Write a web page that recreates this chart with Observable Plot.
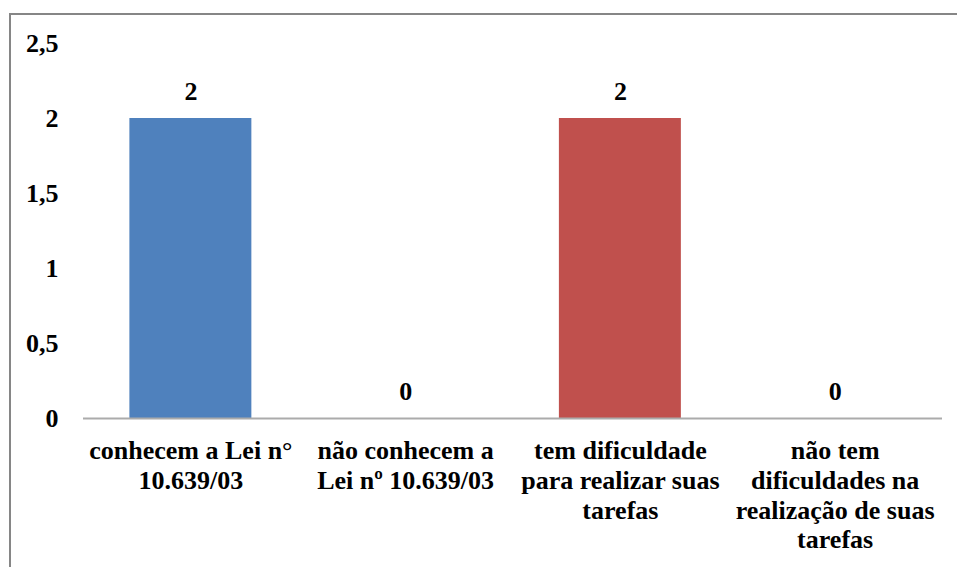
<!DOCTYPE html>
<html><head><meta charset="utf-8">
<script src="https://cdn.jsdelivr.net/npm/d3@7"></script>
<script src="https://cdn.jsdelivr.net/npm/@observablehq/plot@0.6"></script>
<style>
body{margin:0;background:#fff;}
#wrap{position:relative;width:957px;height:567px;overflow:hidden;}
#frame{position:absolute;left:9px;top:13px;width:1000px;height:600px;border-top:2px solid #868686;border-left:2px solid #868686;box-sizing:border-box;pointer-events:none}
svg{display:block}
</style></head>
<body><div id="wrap"><div id="chart"></div><div id="frame"></div></div>
<script>
const categories = [
  "conhecem a Lei n°\n10.639/03",
  "não conhecem a\nLei nº 10.639/03",
  "tem dificuldade\npara realizar suas\ntarefas",
  "não tem\ndificuldades na\nrealização de suas\ntarefas"
];
const values = [2, 0, 2, 0];
const barColors = ["#4F81BD", "#4F81BD", "#C0504D", "#C0504D"];
const yTicks = [0, 0.5, 1, 1.5, 2, 2.5];

const data = categories.map((c, i) => ({cat: c, value: values[i], color: barColors[i]}));
const fmt = d => String(d).replace(".", ",");
const FONT = "Liberation Serif";
const FS = 26;

const chart = Plot.plot({
  width: 957,
  height: 567,
  marginLeft: 83,
  marginRight: 15,
  marginTop: 43,
  marginBottom: 149,
  style: {fontFamily: FONT, fontSize: FS + "px", fontWeight: "bold", color: "black", background: "transparent"},
  x: {domain: categories, paddingInner: 0.432, paddingOuter: 0.216, round: false, label: null},
  y: {domain: [0, 2.5], label: null},
  marks: [
    Plot.barY(data, {x: "cat", y: "value", fill: "color"}),
    Plot.ruleY([0], {stroke: "#ababab", strokeWidth: 2}),
    Plot.axisY({ticks: yTicks, tickFormat: fmt, tickSize: 0, tickPadding: 25, line: true, stroke: "#ababab", fill: "black", label: null, fontFamily: FONT, fontSize: FS, fontWeight: "bold"}),
    Plot.axisX({tickSize: 0, tickPadding: 19, lineHeight: 1.15, fill: "black", label: null, fontFamily: FONT, fontSize: FS, fontWeight: "bold"}),
    Plot.text(data, {x: "cat", y: "value", text: d => fmt(d.value), dy: -27, fill: "black", fontFamily: FONT, fontSize: FS, fontWeight: "bold"})
  ]
});
document.getElementById("chart").appendChild(chart);
</script>
</body></html>
